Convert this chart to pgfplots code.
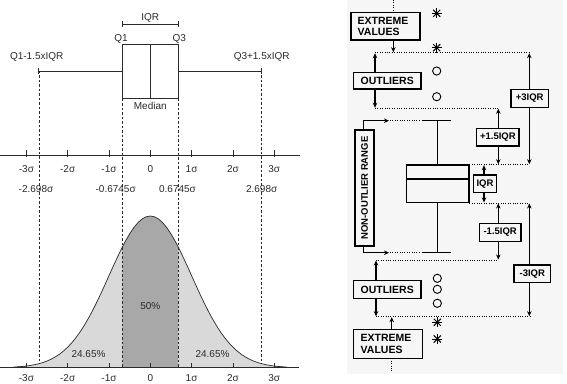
\documentclass[border=0pt]{standalone}
\usepackage{fontspec}
\setmainfont{Liberation Sans}
\usepackage{pgfplots}
\usepackage{pgfplotstable}
\pgfplotsset{compat=1.18}
\usetikzlibrary{arrows.meta}

\definecolor{lightfill}{HTML}{D9D9D9}
\definecolor{darkfill}{HTML}{A8A8A8}
\definecolor{tailfill}{HTML}{8C8C8C}
\definecolor{panelbg}{HTML}{F6F6F6}
\definecolor{ink}{HTML}{2A2A2A}

% normal curve, height relative to the peak
\pgfplotstableread{
x y
-3.3 0.00432
-3.2 0.00598
-3.1 0.00819
-3.0 0.01111
-2.9 0.01492
-2.8 0.01984
-2.698 0.02627
-2.6 0.03405
-2.5 0.04394
-2.4 0.05614
-2.3 0.07101
-2.2 0.08892
-2.1 0.11025
-2.0 0.13534
-1.9 0.16447
-1.8 0.19790
-1.7 0.23575
-1.6 0.27804
-1.5 0.32465
-1.4 0.37531
-1.3 0.42956
-1.2 0.48675
-1.1 0.54607
-1.0 0.60653
-0.9 0.66698
-0.8 0.72615
-0.7 0.78270
-0.6745 0.79654
-0.6 0.83527
-0.5 0.88250
-0.4 0.92312
-0.3 0.95600
-0.2 0.98020
-0.1 0.99501
0.0 1.00000
0.1 0.99501
0.2 0.98020
0.3 0.95600
0.4 0.92312
0.5 0.88250
0.6 0.83527
0.6745 0.79654
0.7 0.78270
0.8 0.72615
0.9 0.66698
1.0 0.60653
1.1 0.54607
1.2 0.48675
1.3 0.42956
1.4 0.37531
1.5 0.32465
1.6 0.27804
1.7 0.23575
1.8 0.19790
1.9 0.16447
2.0 0.13534
2.1 0.11025
2.2 0.08892
2.3 0.07101
2.4 0.05614
2.5 0.04394
2.6 0.03405
2.698 0.02627
2.8 0.01984
2.9 0.01492
3.0 0.01111
3.1 0.00819
3.2 0.00598
3.3 0.00432
}\bell

\tikzset{
  lbl/.style={font=\fontsize{10}{12}\selectfont, text=ink, inner sep=0pt},
  caps/.style={font=\fontsize{10.5}{12.5}\selectfont\bfseries, text=black, inner sep=0pt},
  capsm/.style={font=\fontsize{9.5}{11}\selectfont\bfseries, text=black, inner sep=0pt},
  ln/.style={black, line width=1.1pt},
  dots/.style={black, line width=0.7pt, dash pattern=on 0.8pt off 1.6pt},
  arr/.style={ln, -{Stealth[length=5pt,width=4.5pt]}},
  darr/.style={ln, {Stealth[length=5pt,width=4.5pt]}-{Stealth[length=5pt,width=4.5pt]}},
  bx/.style={ln, fill=panelbg},
  gd/.style={ink, line width=0.7pt, dash pattern=on 2.5pt off 2pt},
  sl/.style={ink, line width=0.8pt},
}

\begin{document}
\begin{tikzpicture}
% ---- left: box plot over the normal curve (x in sigma) ----
\begin{axis}[at={(0,0)}, anchor=south west, scale only axis,
  width=567pt, height=383pt,
  xmin=-3.6392, xmax=10.0896, ymin=-0.1009, ymax=2.424,
  hide axis, clip=false]
\addplot[draw=none, fill=lightfill] table[x=x, y=y] {\bell} \closedcycle;
\addplot[draw=none, fill=darkfill, restrict x to domain=-0.6745:0.6745] table[x=x, y=y] {\bell} \closedcycle;
\addplot[draw=none, fill=tailfill, restrict x to domain=-3.3:-3.0] table[x=x, y=y] {\bell} \closedcycle;
\addplot[draw=none, fill=tailfill, restrict x to domain=3.0:3.3] table[x=x, y=y] {\bell} \closedcycle;
\addplot[ink, line width=0.7pt] table[x=x, y=y] {\bell};

% baseline and middle sigma axis
\draw[sl] (axis cs:-3.639,0) -- (axis cs:3.60,0);
\draw[sl] (axis cs:-3.639,1.3975) -- (axis cs:3.62,1.3975);
\pgfplotsinvokeforeach{-3,-2,-1,0,1,2,3}{
  \draw[sl] (axis cs:#1,0) -- (axis cs:#1,0.033);
  \draw[sl] (axis cs:#1,1.392) -- (axis cs:#1,1.435);
}

% dashed guides
\draw[gd] (axis cs:-2.698,1.956) -- (axis cs:-2.698,0.026);
\draw[gd] (axis cs:2.698,1.956) -- (axis cs:2.698,0.026);
\draw[gd] (axis cs:-0.6745,1.773) -- (axis cs:-0.6745,0);
\draw[gd] (axis cs:0.6745,1.773) -- (axis cs:0.6745,0);

% box plot
\draw[sl] (axis cs:-0.6745,1.773) rectangle (axis cs:0.6745,2.132);
\draw[sl] (axis cs:0,1.773) -- (axis cs:0,2.132);
\draw[sl] (axis cs:-2.698,1.956) -- (axis cs:-0.6745,1.956);
\draw[sl] (axis cs:0.6745,1.956) -- (axis cs:2.698,1.956);
\draw[sl] (axis cs:-2.698,1.935) -- (axis cs:-2.698,1.977);
\draw[sl] (axis cs:2.698,1.935) -- (axis cs:2.698,1.977);
\draw[sl] (axis cs:-0.6745,2.266) -- (axis cs:0.6745,2.266);
\draw[sl] (axis cs:-0.6745,2.246) -- (axis cs:-0.6745,2.286);
\draw[sl] (axis cs:0.6745,2.246) -- (axis cs:0.6745,2.286);

\node[lbl] at (axis cs:0,2.303) {IQR};
\node[lbl] at (axis cs:-0.709,2.167) {Q1};
\node[lbl] at (axis cs:0.70,2.167) {Q3};
\node[lbl] at (axis cs:-2.75,2.046) {Q1-1.5xIQR};
\node[lbl] at (axis cs:2.697,2.046) {Q3+1.5xIQR};
\node[lbl] at (axis cs:0,1.725) {Median};

\node[lbl] at (axis cs:-3,1.308) {-3σ};
\node[lbl] at (axis cs:-2,1.308) {-2σ};
\node[lbl] at (axis cs:-1,1.308) {-1σ};
\node[lbl] at (axis cs:0,1.308) {0};
\node[lbl] at (axis cs:1,1.308) {1σ};
\node[lbl] at (axis cs:2,1.308) {2σ};
\node[lbl] at (axis cs:3,1.308) {3σ};
\node[lbl] at (axis cs:-3,-0.068) {-3σ};
\node[lbl] at (axis cs:-2,-0.068) {-2σ};
\node[lbl] at (axis cs:-1,-0.068) {-1σ};
\node[lbl] at (axis cs:0,-0.068) {0};
\node[lbl] at (axis cs:1,-0.068) {1σ};
\node[lbl] at (axis cs:2,-0.068) {2σ};
\node[lbl] at (axis cs:3,-0.068) {3σ};
\node[lbl] at (axis cs:-2.768,1.176) {-2.698σ};
\node[lbl] at (axis cs:-0.838,1.176) {-0.6745σ};
\node[lbl] at (axis cs:0.659,1.176) {0.6745σ};
\node[lbl] at (axis cs:2.697,1.176) {2.698σ};

\node[lbl] at (axis cs:0,0.409) {50\%};
\node[lbl] at (axis cs:-1.496,0.088) {24.65\%};
\node[lbl] at (axis cs:1.506,0.088) {24.65\%};
\end{axis}

% ---- right: outlier diagram (pixel units, y down) ----
\begin{axis}[at={(0,0)}, anchor=south west, scale only axis,
  width=567pt, height=383pt,
  xmin=0, xmax=567, ymin=0, ymax=383, y dir=reverse,
  hide axis, clip=false]
\fill[panelbg] (axis cs:347,0) rectangle (axis cs:563,374);

% dotted levels
\draw[dots] (axis cs:393.3,0) -- (axis cs:393.3,12.3);
\draw[dots] (axis cs:375,52.7) -- (axis cs:529,52.7);
\draw[dots] (axis cs:375,108.3) -- (axis cs:498,108.3);
\draw[dots] (axis cs:390,120.7) -- (axis cs:419,120.7);
\draw[dots] (axis cs:469.3,164.7) -- (axis cs:529,164.7);
\draw[dots] (axis cs:469.3,203) -- (axis cs:529,203);
\draw[dots] (axis cs:390,252.7) -- (axis cs:419,252.7);
\draw[dots] (axis cs:376,260) -- (axis cs:498,260);
\draw[dots] (axis cs:376,316.7) -- (axis cs:531.7,316.7);
\draw[dots] (axis cs:391.7,358.3) -- (axis cs:391.7,371);

% arrows
\draw[arr] (axis cs:393.3,40) -- (axis cs:393.3,52.2);
\draw[arr] (axis cs:375,72.3) -- (axis cs:375,53.2);
\draw[arr] (axis cs:375,89) -- (axis cs:375,107.8);
\draw[darr] (axis cs:529.3,53.2) -- (axis cs:529.3,164.2);
\draw[darr] (axis cs:498.3,108.8) -- (axis cs:498.3,164.2);
\draw[arr] (axis cs:484,175) -- (axis cs:484,165.2);
\draw[arr] (axis cs:484,192.7) -- (axis cs:484,202.5);
\draw[darr] (axis cs:498.3,203.5) -- (axis cs:498.3,259.5);
\draw[darr] (axis cs:529.3,203.5) -- (axis cs:529.3,316.2);
\draw[arr] (axis cs:376,280.7) -- (axis cs:376,260.5);
\draw[arr] (axis cs:376,298.3) -- (axis cs:376,316.2);
\draw[arr] (axis cs:391.7,329.3) -- (axis cs:391.7,317.2);
\draw[arr] (axis cs:363.3,130) -- (axis cs:363.3,120.7) -- (axis cs:389,120.7);
\draw[arr] (axis cs:363.3,246) -- (axis cs:363.3,252.7) -- (axis cs:389,252.7);

% box plot
\draw[ln] (axis cs:421.7,120.7) -- (axis cs:451,120.7);
\draw[ln] (axis cs:437.7,120.7) -- (axis cs:437.7,165);
\draw[ln] (axis cs:437.7,202.7) -- (axis cs:437.7,252.7);
\draw[ln] (axis cs:421.7,252.7) -- (axis cs:451,252.7);
\draw[bx] (axis cs:406.7,165) rectangle (axis cs:469,202.7);
\draw[ln] (axis cs:406.7,179) -- (axis cs:469,179);

% labelled boxes
\draw[bx] (axis cs:351,12.3) rectangle (axis cs:420,40);
\node[caps, anchor=west] at (axis cs:357.5,20.5) {EXTREME};
\node[caps, anchor=west] at (axis cs:357.5,31.5) {VALUES};
\draw[bx] (axis cs:353.3,72.3) rectangle (axis cs:421,89);
\node[caps] at (axis cs:387.2,80.7) {OUTLIERS};
\draw[bx] (axis cs:511,89.3) rectangle (axis cs:548.3,107.3);
\node[capsm] at (axis cs:529.7,98.3) {+3IQR};
\draw[bx] (axis cs:476.7,128.3) rectangle (axis cs:519,146);
\node[capsm] at (axis cs:497.9,137.2) {+1.5IQR};
\draw[bx] (axis cs:355,130) rectangle (axis cs:374,246);
\node[capsm, rotate=90] at (axis cs:364.5,188) {NON-OUTLIER RANGE};
\draw[bx] (axis cs:473.3,175) rectangle (axis cs:496.7,192.7);
\node[capsm] at (axis cs:485,184) {IQR};
\draw[bx] (axis cs:479.3,223.3) rectangle (axis cs:521,241.7);
\node[capsm] at (axis cs:500.2,232.5) {-1.5IQR};
\draw[bx] (axis cs:514,265) rectangle (axis cs:550.7,282.3);
\node[capsm] at (axis cs:532.3,273.7) {-3IQR};
\draw[bx] (axis cs:353.3,280.7) rectangle (axis cs:421,298.3);
\node[caps] at (axis cs:387.2,289.5) {OUTLIERS};
\draw[bx] (axis cs:353.3,329.3) rectangle (axis cs:422.7,358.3);
\node[caps, anchor=west] at (axis cs:360.5,338) {EXTREME};
\node[caps, anchor=west] at (axis cs:360.5,349.5) {VALUES};

% outliers and extreme values
\addplot[only marks, mark=o, mark size=4.1pt, black, line width=0.9pt]
  coordinates {(436.7,71) (436.7,96.7) (437.3,278.3) (437.3,289.3) (437.3,303.3)};
\addplot[only marks, mark=+, mark size=5pt, black, line width=1pt]
  coordinates {(436.7,13.3) (436.7,47.7) (437.3,322.3) (437.3,339)};
\addplot[only marks, mark=x, mark size=5pt, black, line width=1pt]
  coordinates {(436.7,13.3) (436.7,47.7) (437.3,322.3) (437.3,339)};
\end{axis}
\pgfresetboundingbox
\path (0,0) rectangle (567pt,383pt);
\end{tikzpicture}
\end{document}
